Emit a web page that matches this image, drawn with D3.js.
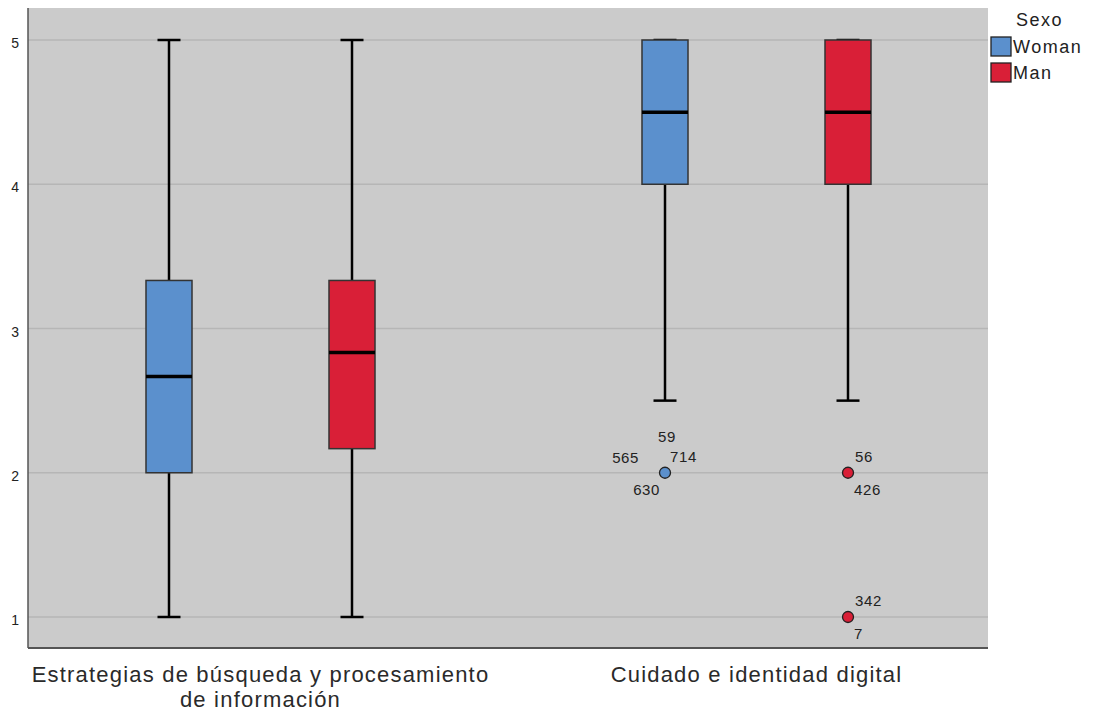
<!DOCTYPE html>
<html>
<head>
<meta charset="utf-8">
<script src="https://cdn.jsdelivr.net/npm/d3@7"></script>
<style>
  html, body { margin: 0; padding: 0; background: #ffffff; }
  svg { display: block; font-family: "Liberation Sans", Arial, sans-serif; }
</style>
</head>
<body>
<svg id="chart" width="1093" height="713"></svg>
<script>
// Groups (x axis) and series (sex)
const categories = ["Estrategias de búsqueda y procesamiento\nde información", "Cuidado e identidad digital"];
const series = ["Woman", "Man"];
const yTicks = [1, 2, 3, 4, 5];

// Five-number summaries per category, per series: [low whisker, Q1, median, Q3, high whisker]
const womanStats = [
  [1, 2, 2.667, 3.333, 5],
  [2.5, 4, 4.5, 5, 5]
];
const manStats = [
  [1, 2.167, 2.833, 3.333, 5],
  [2.5, 4, 4.5, 5, 5]
];

// Outliers: category index, value, case labels
const womanOutliers = [
  { cat: 1, value: 2, labels: ["59", "714", "565", "630"] }
];
const manOutliers = [
  { cat: 1, value: 2, labels: ["56", "426"] },
  { cat: 1, value: 1, labels: ["342", "7"] }
];

const colors = { Woman: "#5b90cd", Man: "#d91f37" };

const svg = d3.select("#chart");
const plot = { left: 28, right: 988, top: 8, bottom: 648 };

const y = d3.scaleLinear().domain([1, 5]).range([617, 40]);
const x = d3.scaleBand().domain(categories).range([12.5, 1004.5]).padding(0);
const xs = d3.scaleBand().domain(series).range([-183, 183]).padding(0);
const boxW = 46, capW = 23;

// plot background
svg.append("rect")
  .attr("x", plot.left).attr("y", plot.top)
  .attr("width", plot.right - plot.left).attr("height", plot.bottom - plot.top)
  .attr("fill", "#cbcbcb");

// horizontal gridlines
svg.append("g").selectAll("line").data(yTicks).join("line")
  .attr("x1", plot.left).attr("x2", plot.right)
  .attr("y1", d => y(d)).attr("y2", d => y(d))
  .attr("stroke", "#b6b6b6").attr("stroke-width", 1.5);

// y axis
const yAxis = svg.append("g")
  .attr("transform", `translate(${plot.left},0)`)
  .call(d3.axisLeft(y).tickValues(yTicks).tickFormat(d3.format("d")).tickSize(0).tickPadding(9));
yAxis.select(".domain").remove();
yAxis.selectAll("text").attr("font-size", 14).attr("fill", "#222").attr("dy", "0.55em")
  .attr("font-family", "'Liberation Sans', Arial, sans-serif");

svg.append("line")
  .attr("x1", plot.left).attr("x2", plot.left)
  .attr("y1", plot.top).attr("y2", plot.bottom)
  .attr("stroke", "#555").attr("stroke-width", 1.5);
svg.append("line")
  .attr("x1", plot.left).attr("x2", plot.right)
  .attr("y1", plot.bottom).attr("y2", plot.bottom)
  .attr("stroke", "#555").attr("stroke-width", 2);

// x axis category labels (one text element per line)
const catG = svg.append("g");
categories.forEach(c => {
  const cx = x(c) + x.bandwidth() / 2;
  c.split("\n").forEach((line, i) => {
    catG.append("text")
      .attr("x", cx).attr("y", 682 + i * 25)
      .attr("text-anchor", "middle")
      .attr("font-size", 22).attr("letter-spacing", 1.2).attr("fill", "#2a2a2a")
      .text(line);
  });
});

// boxes
function drawSeries(name, stats) {
  const g = svg.append("g");
  stats.forEach((s, i) => {
    const cx = x(categories[i]) + x.bandwidth() / 2 + xs(name) + xs.bandwidth() / 2;
    const [lo, q1, med, q3, hi] = s;
    // whiskers
    g.append("line").attr("x1", cx).attr("x2", cx).attr("y1", y(hi)).attr("y2", y(q3))
      .attr("stroke", "#000").attr("stroke-width", 2.5);
    g.append("line").attr("x1", cx).attr("x2", cx).attr("y1", y(q1)).attr("y2", y(lo))
      .attr("stroke", "#000").attr("stroke-width", 2.5);
    g.append("line").attr("x1", cx - capW / 2).attr("x2", cx + capW / 2).attr("y1", y(hi)).attr("y2", y(hi))
      .attr("stroke", "#000").attr("stroke-width", 2.5);
    g.append("line").attr("x1", cx - capW / 2).attr("x2", cx + capW / 2).attr("y1", y(lo)).attr("y2", y(lo))
      .attr("stroke", "#000").attr("stroke-width", 2.5);
    // box
    g.append("rect")
      .attr("x", cx - boxW / 2).attr("y", y(q3))
      .attr("width", boxW).attr("height", y(q1) - y(q3))
      .attr("fill", colors[name]).attr("stroke", "#333").attr("stroke-width", 1.5);
    // median
    g.append("line").attr("x1", cx - boxW / 2).attr("x2", cx + boxW / 2).attr("y1", y(med)).attr("y2", y(med))
      .attr("stroke", "#000").attr("stroke-width", 3.5);
  });
}
drawSeries("Woman", womanStats);
drawSeries("Man", manStats);

// outlier label offsets relative to the point: [dx, dy, anchor]
const labelSpots = {
  Woman: [[-7, -36, "start"], [5, -16, "start"], [-26, -15, "end"], [-5, 17, "end"]],
  Man: [[7, -16, "start"], [6, 17, "start"]]
};

function drawOutliers(name, list) {
  const g = svg.append("g");
  list.forEach(o => {
    const cx = x(categories[o.cat]) + x.bandwidth() / 2 + xs(name) + xs.bandwidth() / 2;
    const cy = y(o.value);
    g.append("circle").attr("cx", cx).attr("cy", cy).attr("r", 5.5)
      .attr("fill", colors[name]).attr("stroke", "#222").attr("stroke-width", 1.3);
    o.labels.forEach((lab, k) => {
      const spot = labelSpots[name][k];
      g.append("text")
        .attr("x", cx + spot[0]).attr("y", cy + spot[1]).attr("dy", "0.35em")
        .attr("text-anchor", spot[2])
        .attr("font-size", 15).attr("letter-spacing", 0.6).attr("fill", "#222")
        .text(lab);
    });
  });
}
drawOutliers("Woman", womanOutliers);
drawOutliers("Man", manOutliers);

// legend
const leg = svg.append("g");
leg.append("text").attr("x", 1016).attr("y", 20).attr("dy", "0.35em")
  .attr("font-size", 18).attr("letter-spacing", 1.5).attr("fill", "#222").text("Sexo");
series.forEach((s, i) => {
  const ly = 37 + i * 26;
  leg.append("rect").attr("x", 991).attr("y", ly).attr("width", 20).attr("height", 19)
    .attr("fill", colors[s]).attr("stroke", "#222").attr("stroke-width", 1.3);
  leg.append("text").attr("x", 1013).attr("y", ly + 10).attr("dy", "0.35em")
    .attr("font-size", 18).attr("letter-spacing", 1.5).attr("fill", "#222").text(s);
});
</script>
</body>
</html>
